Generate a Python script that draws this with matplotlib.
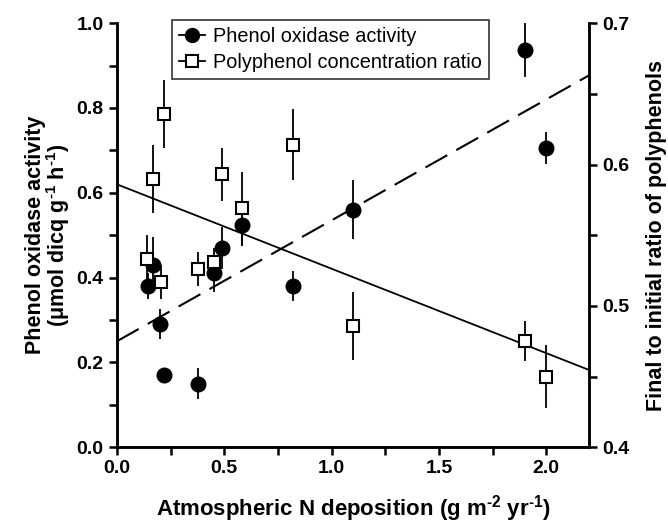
import matplotlib.pyplot as plt
import numpy as np
from matplotlib.lines import Line2D

plt.rcParams['font.family'] = ['Liberation Sans', 'DejaVu Sans']
plt.rcParams['mathtext.fontset'] = 'custom'
plt.rcParams['mathtext.rm'] = 'Liberation Sans:bold'
plt.rcParams['mathtext.bf'] = 'Liberation Sans:bold'
plt.rcParams['mathtext.it'] = 'Liberation Sans:bold'

# Phenol oxidase activity (left axis)
pox_n = [0.145, 0.17, 0.20, 0.22, 0.38, 0.45, 0.49, 0.585, 0.82, 1.10, 1.90, 2.00]
pox_val = [0.38, 0.43, 0.29, 0.17, 0.15, 0.41, 0.47, 0.525, 0.38, 0.56, 0.937, 0.706]
pox_err = [0.03, 0.065, 0.035, 0.0, 0.037, 0.043, 0.05, 0.05, 0.035, 0.069, 0.064, 0.037]

# Polyphenol concentration ratio (right axis)
poly_n = [0.14, 0.17, 0.205, 0.22, 0.38, 0.45, 0.49, 0.585, 0.82, 1.10, 1.90, 2.00]
poly_val = [0.533, 0.590, 0.517, 0.636, 0.526, 0.531, 0.593, 0.569, 0.614, 0.486, 0.475, 0.450]
poly_err = [0.017, 0.024, 0.012, 0.024, 0.012, 0.010, 0.019, 0.026, 0.025, 0.024, 0.014, 0.022]

# regression lines
pox_fit = (0.25, 0.285)      # intercept, slope
poly_fit = (0.586, -0.0597)

fig = plt.figure(figsize=(6.68, 5.25), dpi=100)
ax = fig.add_axes([0.175, 0.148, 0.707, 0.808])
ax2 = ax.twinx()

xx = np.array([0.0, 2.2])
ax.plot(xx, pox_fit[0] + pox_fit[1] * xx, color='black', lw=1.5,
        linestyle=(0, (12, 5)))
ax2.plot(xx, poly_fit[0] + poly_fit[1] * xx, color='black', lw=1.3)

ax.errorbar(pox_n, pox_val, yerr=pox_err, fmt='o', color='black', ms=10.5,
            elinewidth=1.3, capsize=0, zorder=3)
ax2.errorbar(poly_n, poly_val, yerr=poly_err, fmt='s', color='black', mfc='white',
             mec='black', mew=1.5, ms=8.5, elinewidth=1.3, capsize=0, zorder=3)

ax.set_xlim(0, 2.2)
ax.set_ylim(0, 1.0)
ax2.set_ylim(0.4, 0.7)
ax.set_xticks([0, 0.5, 1.0, 1.5, 2.0])
ax.set_xticks(np.arange(0, 2.2, 0.25), minor=True)
ax.set_yticks([0, 0.2, 0.4, 0.6, 0.8, 1.0])
ax.set_yticks(np.arange(0, 1.01, 0.1), minor=True)
ax2.set_yticks([0.4, 0.5, 0.6, 0.7])
ax2.set_yticks(np.arange(0.4, 0.701, 0.05), minor=True)
ax.xaxis.set_major_formatter(plt.FormatStrFormatter('%.1f'))
ax.yaxis.set_major_formatter(plt.FormatStrFormatter('%.1f'))
ax2.yaxis.set_major_formatter(plt.FormatStrFormatter('%.1f'))

for a in (ax, ax2):
    a.spines['top'].set_visible(False)
    for s in a.spines.values():
        s.set_linewidth(1.8)
    a.tick_params(which='both', width=1.8, direction='out')
    a.tick_params(which='major', length=6, labelsize=14)
    a.tick_params(which='minor', length=6)
    for lab in a.get_xticklabels() + a.get_yticklabels():
        lab.set_fontweight('bold')

ax.set_xlabel('Atmospheric N deposition (g m$^{\u20102}$ yr$^{\u20101}$)',
              fontsize=16, fontweight='bold', labelpad=11)
ax.set_ylabel('Phenol oxidase activity\n' + '(μmol dicq g$^{\u20101}$ h$^{\u20101}$)',
              fontsize=15.5, fontweight='bold', labelpad=3, linespacing=0.95)
ax2.set_ylabel('Final to initial ratio of polyphenols', fontsize=15.5,
               fontweight='bold', labelpad=12)

handles = [
    Line2D([0], [0], marker='o', color='black', ms=10, lw=1.3,
           label='Phenol oxidase activity'),
    Line2D([0], [0], marker='s', color='black', mfc='white', mew=1.5, ms=8,
           lw=1.3, label='Polyphenol concentration ratio'),
]
leg = ax.legend(handles=handles, loc='upper left', bbox_to_anchor=(0.117, 1.008),
                fontsize=14.3, frameon=True, fancybox=False, handlelength=1.3,
                handletextpad=0.4, borderpad=0.35, labelspacing=0.35,
                borderaxespad=0)
leg.get_frame().set_edgecolor('black')
leg.get_frame().set_linewidth(1.2)

fig.savefig('out.png', dpi=100)
